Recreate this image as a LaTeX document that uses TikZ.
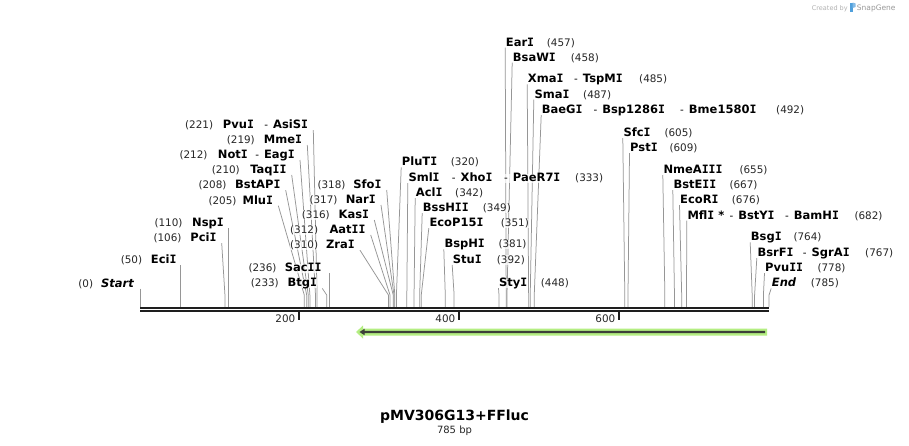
\documentclass[tikz,border=0pt]{standalone}
\usepackage{fontspec}
\setmainfont{DejaVu Sans}
\newfontfamily\monoI{DejaVu Sans Mono}
\usetikzlibrary{calc}
\pgfdeclarelayer{bg}
\pgfsetlayers{bg,main}
\definecolor{cutgray}{RGB}{150,150,150}
\definecolor{featgreen}{RGB}{180,238,130}
\definecolor{featdark}{RGB}{60,64,56}
\definecolor{sgblue}{RGB}{80,160,220}
\definecolor{barblack}{RGB}{30,30,30}
\newcommand\nmfont{\fontsize{11.5}{13}\selectfont\bfseries}
\newcommand\numfont{\fontsize{10.4}{12}\selectfont\mdseries}
\newcommand\dsh{{\numfont -}\hspace{5pt}}
\newcommand\Ib{{\monoI I}}
\newcommand\mksite[1]{\coordinate (s#1) at ({140+0.8013*#1},307);}
\begin{document}
\begin{tikzpicture}[x=1pt,y=-1pt,
  txt/.style={inner sep=0pt, text height=8pt, text depth=1.5pt, fill=white, fill opacity=0.7, text opacity=1},
  nm/.style={txt, font=\nmfont},
  num/.style={txt, font=\numfont, text=black!85},
  cut/.style={draw=cutgray, line width=0.75pt},
  barline/.style={draw=barblack, line width=2pt},
  tick/.style={draw=barblack, line width=2pt},
  ]
\useasboundingbox (0,0) rectangle (909,445);
\begin{pgfonlayer}{bg}
\fill[white] (0,0) rectangle (909,445);
\end{pgfonlayer}

% sites
\foreach \p in {0,50,106,110,205,208,210,212,219,221,233,236,310,312,316,317,318,320,333,342,349,351,381,392,448,457,458,485,487,492,605,609,655,667,676,682,764,767,778,785}{\mksite{\p}}

% ---------- left labels ----------
\node[num, anchor=base east] (k0) at (93.3,287) {(0)};
\node[nm, anchor=base east, font={\nmfont\itshape}] (nStart) at (134,287) {Start};
\node[num, anchor=base east] (k50) at (142.3,263.5) {(50)};
\node[nm, anchor=base east] (nEciI) at (176.7,263.5) {Eci\Ib};
\node[num, anchor=base east] (k106) at (181.7,241.5) {(106)};
\node[nm, anchor=base east] (nPciI) at (216.7,241.5) {Pci\Ib};
\node[num, anchor=base east] (k110) at (182.7,226.5) {(110)};
\node[nm, anchor=base east] (nNspI) at (224,226.5) {Nsp\Ib};
\node[num, anchor=base east] (k205) at (236.7,204) {(205)};
\node[nm, anchor=base east] (nMluI) at (273.3,204) {Mlu\Ib};
\node[num, anchor=base east] (k208) at (226.7,188.5) {(208)};
\node[nm, anchor=base east] (nBstAPI) at (280.7,188.5) {BstAP\Ib};
\node[num, anchor=base east] (k210) at (240,173.3) {(210)};
\node[nm, anchor=base east] (nTaqII) at (286.7,173.3) {Taq\Ib\Ib};
\node[num, anchor=base east] (k212) at (207.7,158.3) {(212)};
\node[nm, anchor=base west] (nNotI) at (217.7,158.3) {Not\Ib};
\node[nm, anchor=base east] (aEagI) at (295,158.3) {\dsh Eag\Ib};
\node[num, anchor=base east] (k219) at (255,143.3) {(219)};
\node[nm, anchor=base east] (nMmeI) at (302.3,143.3) {Mme\Ib};
\node[num, anchor=base east] (k221) at (213.3,128.5) {(221)};
\node[nm, anchor=base west] (nPvuI) at (222.7,128.5) {Pvu\Ib};
\node[nm, anchor=base east] (aAsiSI) at (308.3,128.5) {\dsh AsiS\Ib};
\node[num, anchor=base east] (k233) at (279,286.7) {(233)};
\node[nm, anchor=base east] (nBtgI) at (317.3,286.7) {Btg\Ib};
\node[num, anchor=base east] (k236) at (276.7,271.5) {(236)};
\node[nm, anchor=base east] (nSacII) at (321.7,271.5) {Sac\Ib\Ib};
\node[num, anchor=base east] (k310) at (318.3,248.5) {(310)};
\node[nm, anchor=base east] (nZraI) at (355,248.5) {Zra\Ib};
\node[num, anchor=base east] (k312) at (318.3,233.3) {(312)};
\node[nm, anchor=base east] (nAatII) at (365.7,233.3) {Aat\Ib\Ib};
\node[num, anchor=base east] (k316) at (330,218.3) {(316)};
\node[nm, anchor=base east] (nKasI) at (369.3,218.3) {Kas\Ib};
\node[num, anchor=base east] (k317) at (337.7,203.3) {(317)};
\node[nm, anchor=base east] (nNarI) at (376,203.3) {Nar\Ib};
\node[num, anchor=base east] (k318) at (345.7,188.3) {(318)};
\node[nm, anchor=base east] (nSfoI) at (381.7,188.3) {Sfo\Ib};

% ---------- right labels ----------
\node[nm, anchor=base west] (nPluTI) at (401.7,165.7) {PluT\Ib};
\node[num, anchor=base west] (k320) at (450.7,165.7) {(320)};
\node[nm, anchor=base west] (nSmlI) at (408.3,181.5) {Sml\Ib};
\node[nm, anchor=base west] (aXhoI) at (451.7,181.5) {\dsh Xho\Ib};
\node[nm, anchor=base west] (aPaeR7I) at (504,181.5) {\dsh PaeR7\Ib};
\node[num, anchor=base west] (k333) at (575,181.5) {(333)};
\node[nm, anchor=base west] (nAclI) at (415.7,196.5) {Acl\Ib};
\node[num, anchor=base west] (k342) at (455,196.5) {(342)};
\node[nm, anchor=base west] (nBssHII) at (422.7,211.5) {BssH\Ib\Ib};
\node[num, anchor=base west] (k349) at (482.7,211.5) {(349)};
\node[nm, anchor=base west] (nEcoP15I) at (429.3,226.5) {EcoP15\Ib};
\node[num, anchor=base west] (k351) at (500.7,226.5) {(351)};
\node[nm, anchor=base west] (nBspHI) at (444.3,247.7) {BspH\Ib};
\node[num, anchor=base west] (k381) at (498.3,247.7) {(381)};
\node[nm, anchor=base west] (nStuI) at (452.7,263.3) {Stu\Ib};
\node[num, anchor=base west] (k392) at (496.7,263.3) {(392)};
\node[nm, anchor=base west] (nStyI) at (499,286.5) {Sty\Ib};
\node[num, anchor=base west] (k448) at (540.7,286.5) {(448)};
\node[nm, anchor=base west] (nEarI) at (505.7,46) {Ear\Ib};
\node[num, anchor=base west] (k457) at (546.7,46) {(457)};
\node[nm, anchor=base west] (nBsaWI) at (512.7,61) {BsaW\Ib};
\node[num, anchor=base west] (k458) at (570.7,61) {(458)};
\node[nm, anchor=base west] (nXmaI) at (527.7,82.7) {Xma\Ib};
\node[nm, anchor=base west] (aTspMI) at (574,82.7) {\dsh TspM\Ib};
\node[num, anchor=base west] (k485) at (639,82.7) {(485)};
\node[nm, anchor=base west] (nSmaI) at (534.3,98) {Sma\Ib};
\node[num, anchor=base west] (k487) at (583,98) {(487)};
\node[nm, anchor=base west] (nBaeGI) at (541.7,113.3) {BaeG\Ib};
\node[nm, anchor=base west] (aBsp1286I) at (593.3,113.3) {\dsh Bsp1286\Ib};
\node[nm, anchor=base west] (aBme1580I) at (680,113.3) {\dsh Bme1580\Ib};
\node[num, anchor=base west] (k492) at (776,113.3) {(492)};
\node[nm, anchor=base west] (nSfcI) at (623.3,136.5) {Sfc\Ib};
\node[num, anchor=base west] (k605) at (664.3,136.5) {(605)};
\node[nm, anchor=base west] (nPstI) at (630,151.5) {Pst\Ib};
\node[num, anchor=base west] (k609) at (669.3,151.5) {(609)};
\node[nm, anchor=base west] (nNmeAIII) at (663.3,173.3) {NmeA\Ib\Ib\Ib};
\node[num, anchor=base west] (k655) at (739.3,173.3) {(655)};
\node[nm, anchor=base west] (nBstEII) at (673.3,188.5) {BstE\Ib\Ib};
\node[num, anchor=base west] (k667) at (729.3,188.5) {(667)};
\node[nm, anchor=base west] (nEcoRI) at (680,203.3) {EcoR\Ib};
\node[num, anchor=base west] (k676) at (731.7,203.3) {(676)};
\node[nm, anchor=base west] (nMflI) at (687.3,219) {Mfl\Ib\ *};
\node[nm, anchor=base west] (aBstYI) at (729.3,219) {\dsh BstY\Ib};
\node[nm, anchor=base west] (aBamHI) at (785,219) {\dsh BamH\Ib};
\node[num, anchor=base west] (k682) at (854.3,219) {(682)};
\node[nm, anchor=base west] (nBsgI) at (750.7,240.7) {Bsg\Ib};
\node[num, anchor=base west] (k764) at (793.3,240.7) {(764)};
\node[nm, anchor=base west] (nBsrFI) at (757.3,256.5) {BsrF\Ib};
\node[nm, anchor=base west] (aSgrAI) at (802.7,256.5) {\dsh SgrA\Ib};
\node[num, anchor=base west] (k767) at (865,256.5) {(767)};
\node[nm, anchor=base west] (nPvuII) at (765,271.5) {Pvu\Ib\Ib};
\node[num, anchor=base west] (k778) at (817.3,271.5) {(778)};
\node[nm, anchor=base west, font={\nmfont\itshape}] (nEnd) at (771.7,286.7) {End};
\node[num, anchor=base west] (k785) at (810.7,286.7) {(785)};

% ---------- connectors ----------
\begin{pgfonlayer}{bg}
\draw[cut] (s0 |- nStart.south) -- (s0);
\draw[cut] (s50 |- nEciI.south) -- (s50);
\draw[cut] (s110 |- nNspI.south) -- (s110);
\draw[cut] (s236 |- nSacII.south) -- (s236);
\foreach \n/\p in {nPciI/106,nMluI/205,nBstAPI/208,nTaqII/210,aEagI/212,nMmeI/219,aAsiSI/221,nBtgI/233,nZraI/310,nAatII/312,nKasI/316,nNarI/317,nSfoI/318}
  \draw[cut] ([xshift=5pt]\n.south east) -- ([yshift=12pt]s\p) -- (s\p);
\foreach \n/\p in {nPluTI/320,nSmlI/333,nAclI/342,nBssHII/349,nEcoP15I/351,nBspHI/381,nStuI/392,nStyI/448,nEarI/457,nBsaWI/458,nXmaI/485,nSmaI/487,nBaeGI/492,nSfcI/605,nPstI/609,nNmeAIII/655,nBstEII/667,nEcoRI/676,nMflI/682,nBsgI/764,nBsrFI/767,nPvuII/778,nEnd/785}
  \draw[cut] ([xshift=-0.5pt]\n.south west) -- ([yshift=12pt]s\p) -- (s\p);
\end{pgfonlayer}

% ---------- sequence bar ----------
\draw[barline] (140,307.7) -- (769,307.7);
\draw[barline] (140,311.3) -- (769,311.3);
\draw[tick] (299.3,312) -- (299.3,320);
\draw[tick] (459.2,312) -- (459.2,320);
\draw[tick] (619.3,312) -- (619.3,320);
\node[num, fill=none, anchor=base east] (t200) at (295.5,322.7) {200};
\node[num, fill=none, anchor=base east] (t400) at (455.5,322.7) {400};
\node[num, fill=none, anchor=base east] (t600) at (615.5,322.7) {600};

% ---------- feature arrow ----------
\fill[featgreen] (356,332) -- (363,325.5) -- (363,328.5) -- (767,328.5) -- (767,335.5) -- (363,335.5) -- (363,338.5) -- cycle;
\fill[featdark] (359.5,332) -- (364.5,328.8) -- (364.5,330.8) -- (765,330.8) -- (765,333.2) -- (364.5,333.2) -- (364.5,335.2) -- cycle;

% ---------- title ----------
\node[font={\bfseries\fontsize{14}{16}\selectfont}, anchor=base, inner sep=0pt] (title) at (454.5,420) {pMV306G13+FFluc};
\node[font={\fontsize{10}{12}\selectfont}, anchor=base, inner sep=0pt, text=black!85] (len) at (454.5,433) {785 bp};

% ---------- credit ----------
\node[font={\fontsize{6.5}{8}\selectfont}, text=black!30, anchor=base west, inner sep=0pt] (cby) at (811.7,10) {Created by};
\fill[sgblue] (850,2.5) rectangle (852.6,12);
\fill[sgblue!70] (852.6,2.5) -- (855.6,3.5) -- (855.6,7) -- (852.6,8) -- cycle;
\node[font={\fontsize{7.5}{9}\selectfont}, text=black!40, anchor=base west, inner sep=0pt] (sgn) at (856.7,10.5) {SnapGene};
\end{tikzpicture}
\end{document}
